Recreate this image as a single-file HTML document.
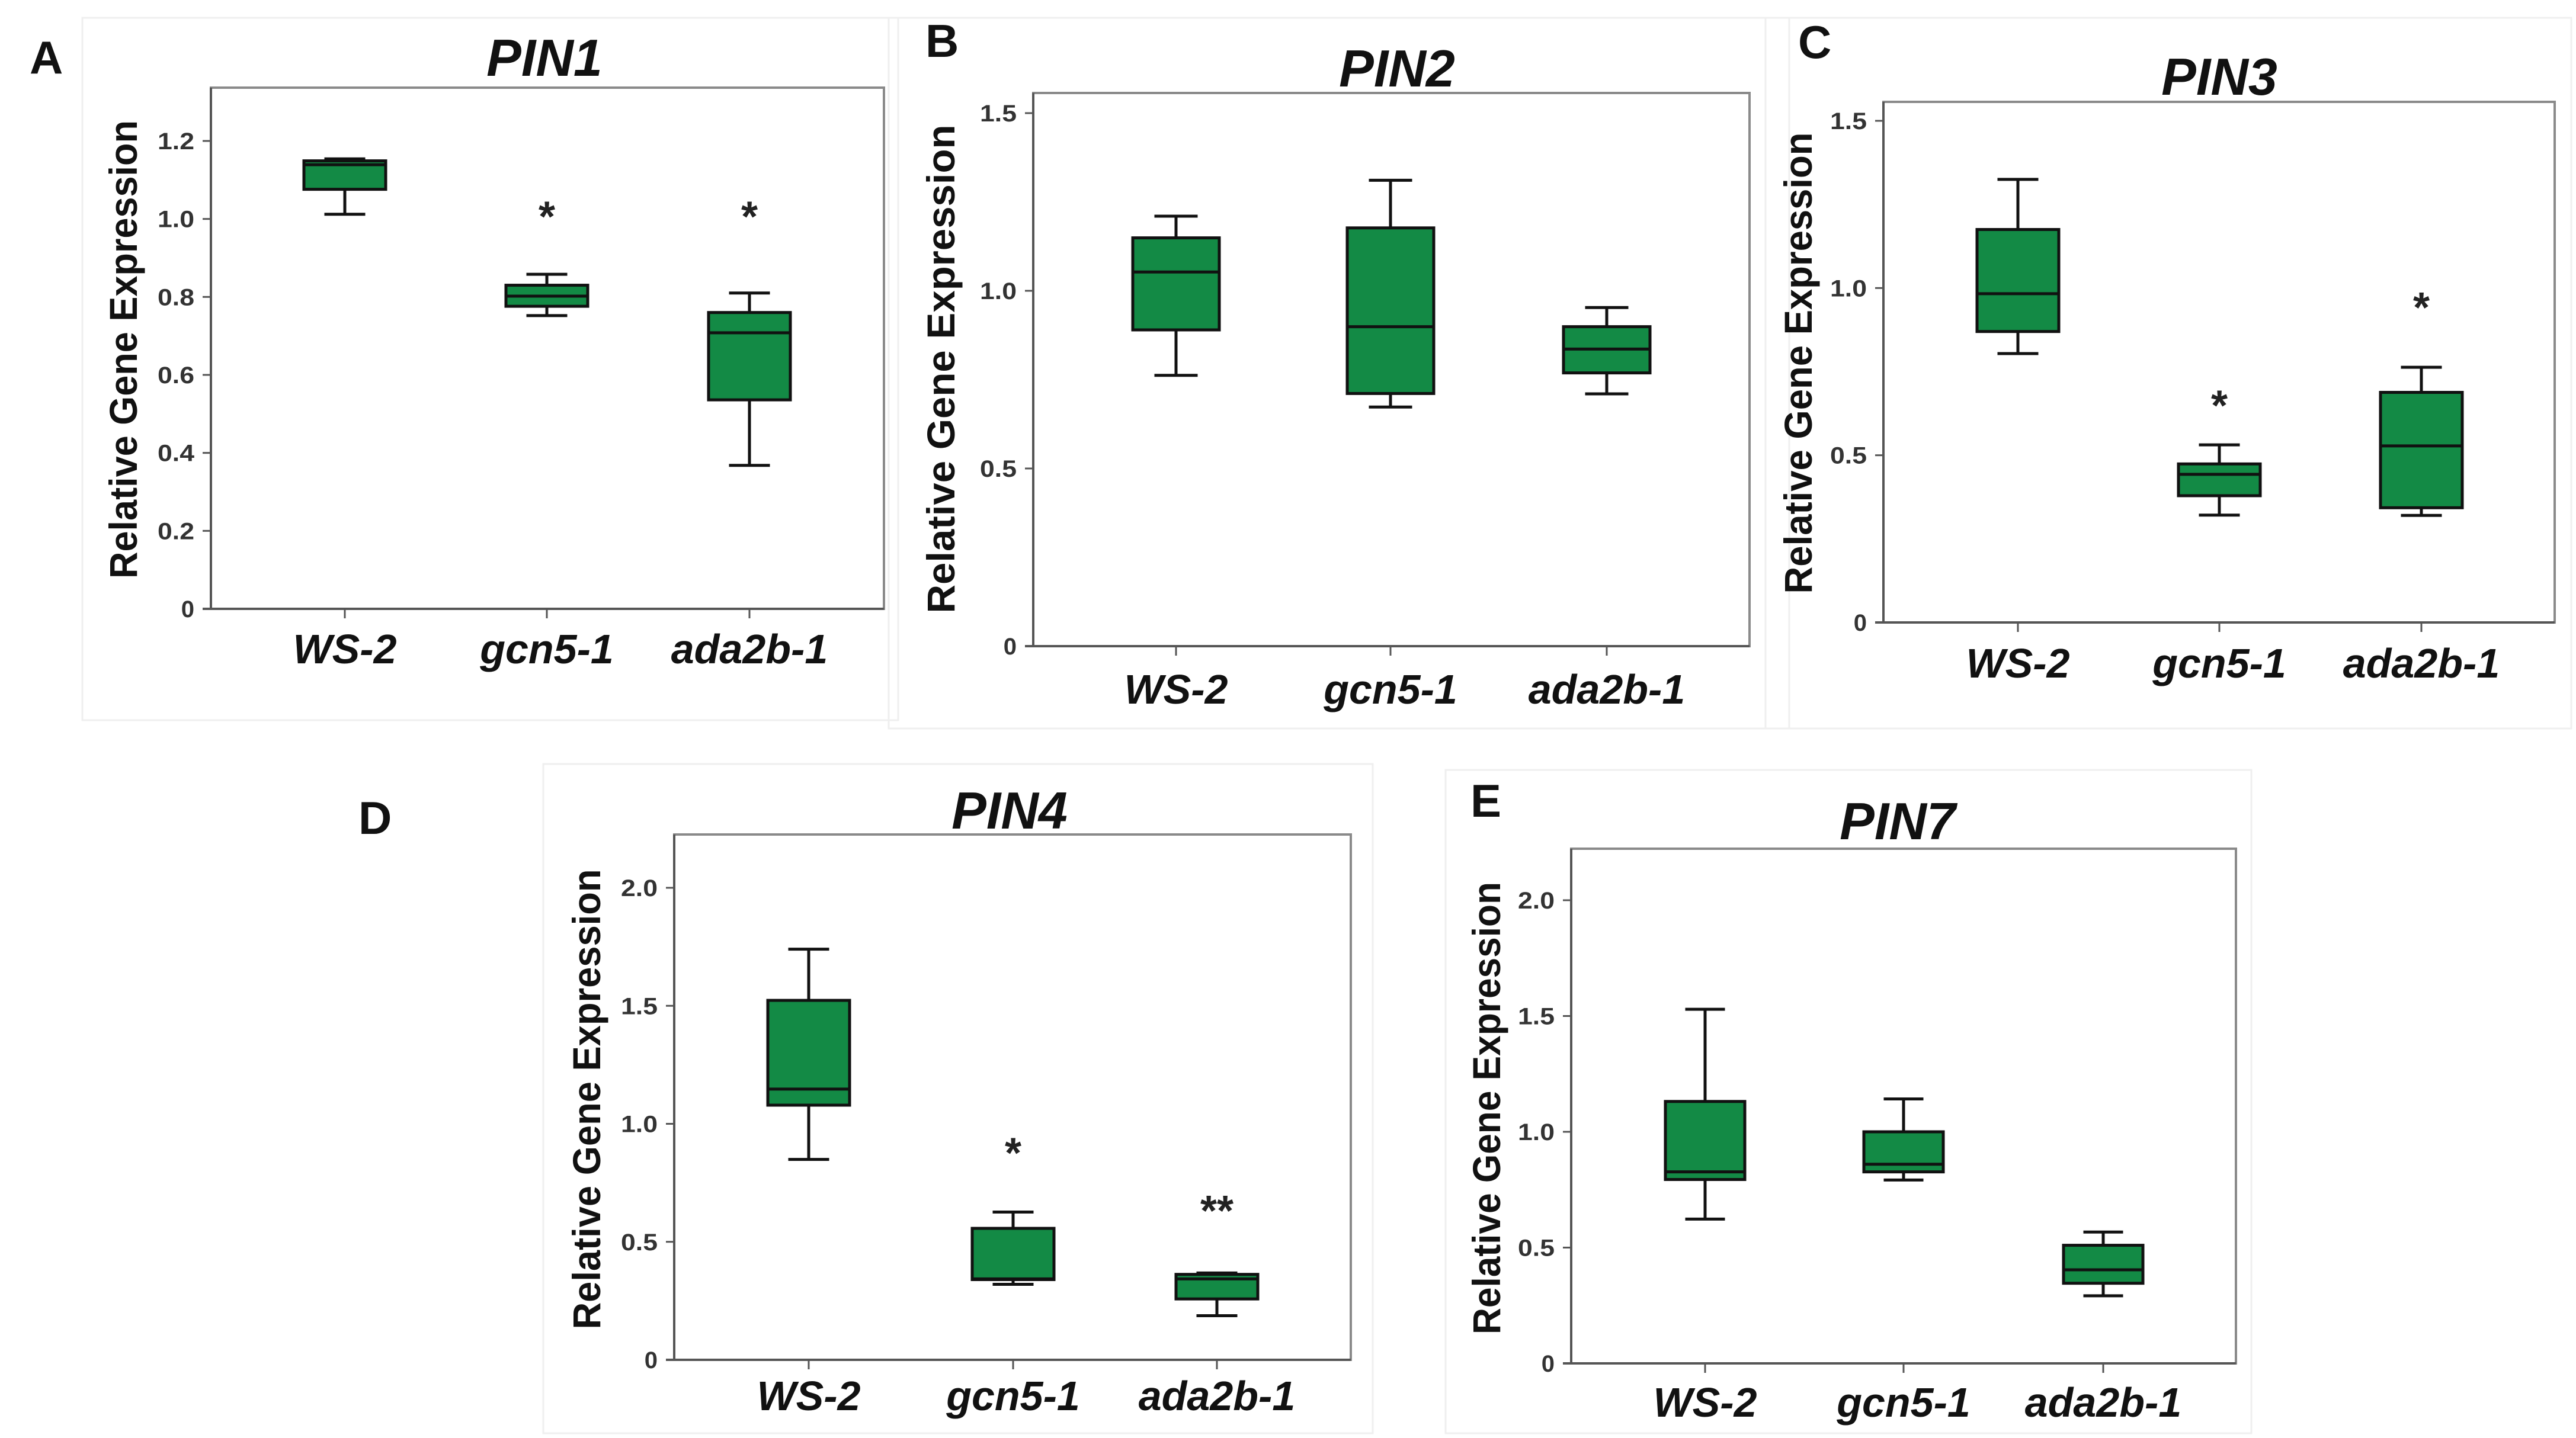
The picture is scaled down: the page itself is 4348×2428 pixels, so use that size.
<!DOCTYPE html>
<html><head><meta charset="utf-8"><style>
html,body{margin:0;padding:0;background:#fff;}
svg{display:block;}
</style></head><body>
<svg id="fig" width="4348" height="2428" viewBox="0 0 4348 2428" xmlns="http://www.w3.org/2000/svg">
<g fill="none" stroke="#efefef" stroke-width="3">
<rect x="139" y="30" width="1377" height="1186"/>
<rect x="1500" y="30" width="1520" height="1200"/>
<rect x="2980" y="30" width="1360" height="1200"/>
<rect x="917" y="1290" width="1400" height="1130"/>
<rect x="2440" y="1300" width="1360" height="1120"/>
</g>
</svg>
<script>
// ---- data ----
const categories = ["WS-2", "gcn5-1", "ada2b-1"];
const geneNames = ["PIN1", "PIN2", "PIN3", "PIN4", "PIN7"];
const panelLetters = ["A", "B", "C", "D", "E"];
// [low whisker, q1, median, q3, high whisker] per genotype
const pin1Stats = [[1.012,1.076,1.139,1.149,1.154],[0.752,0.776,0.802,0.83,0.858],[0.368,0.536,0.708,0.76,0.81]];
const pin2Stats = [[0.762,0.89,1.053,1.149,1.21],[0.673,0.711,0.899,1.177,1.311],[0.71,0.769,0.836,0.899,0.953]];
const pin3Stats = [[0.804,0.87,0.983,1.175,1.325],[0.321,0.379,0.443,0.474,0.531],[0.32,0.343,0.528,0.688,0.763]];
const pin4Stats = [[0.849,1.079,1.147,1.523,1.74],[0.32,0.34,0.343,0.557,0.626],[0.187,0.258,0.343,0.362,0.368]];
const pin7Stats = [[0.623,0.794,0.827,1.131,1.529],[0.792,0.827,0.86,1.0,1.142],[0.292,0.346,0.404,0.51,0.567]];
// significance marks: [label, value]
const pin1Marks = [null, ["*", 1.02], ["*", 1.02]];
const pin2Marks = [null, null, null];
const pin3Marks = [null, ["*", 0.665], ["*", 0.958]];
const pin4Marks = [null, ["*", 0.90], ["**", 0.655]];
const pin7Marks = [null, null, null];
const pin1Ticks = ["0","0.2","0.4","0.6","0.8","1.0","1.2"];
const pin1TickVals = [0,0.2,0.4,0.6,0.8,1.0,1.2];
const halfTicks = ["0","0.5","1.0","1.5"];
const halfTickVals = [0,0.5,1.0,1.5];
const pin47Ticks = ["0","0.5","1.0","1.5","2.0"];
const pin47TickVals = [0,0.5,1.0,1.5,2.0];

// ---- layout (pixels) ----
const layouts = [
 {x0:356,x1:1492,yTop:148,yBot:1028,vTop:1.2,vTopY:238,cx:[582,923,1265],hw:69,title:[919,128],letter:[50,124],yt:[208,590,774],xl:1120},
 {x0:1744,x1:2953,yTop:157,yBot:1091,vTop:1.5,vTopY:191,cx:[1985,2347,2712],hw:73,title:[2358,146],letter:[1562,96],yt:[1588,623,825],xl:1188},
 {x0:3179,x1:4312,yTop:172,yBot:1051,vTop:1.5,vTopY:204,cx:[3406,3746,4087],hw:69,title:[3746,160],letter:[3035,98],yt:[3035,613,779],xl:1144},
 {x0:1138,x1:2280,yTop:1409,yBot:2296,vTop:2.0,vTopY:1499,cx:[1365,1710,2054],hw:69,title:[1704,1399],letter:[605,1408],yt:[990,1856,777],xl:2381},
 {x0:2652,x1:3774,yTop:1433,yBot:2302,vTop:2.0,vTopY:1520,cx:[2878,3213,3550],hw:67,title:[3203,1417],letter:[2482,1379],yt:[2509,1871,764],xl:2392}
];
const statsAll = [pin1Stats,pin2Stats,pin3Stats,pin4Stats,pin7Stats];
const marksAll = [pin1Marks,pin2Marks,pin3Marks,pin4Marks,pin7Marks];
const ticksAll = [pin1Ticks,halfTicks,halfTicks,pin47Ticks,pin47Ticks];
const tickValsAll = [pin1TickVals,halfTickVals,halfTickVals,pin47TickVals,pin47TickVals];

const NS = "http://www.w3.org/2000/svg";
const svg = document.getElementById("fig");
function mk(tag, attrs, parent){
  const e = document.createElementNS(NS, tag);
  for (const k in attrs) e.setAttribute(k, attrs[k]);
  parent.appendChild(e);
  return e;
}
const GREEN = "#138a45";

layouts.forEach((L, p) => {
  const g = mk("g", {}, svg);
  
  
  const yScale = v => L.yBot - (v / L.vTop) * (L.yBot - L.vTopY);

  const frame = mk("rect", {x:L.x0, y:L.yTop, width:L.x1-L.x0, height:L.yBot-L.yTop, fill:"none", stroke:"#8a8a8a", "stroke-width":4}, g);
  
  
  const yAxis = mk("line", {x1:L.x0, y1:L.yTop, x2:L.x0, y2:L.yBot, stroke:"#555", "stroke-width":4}, g);
  
  
  const xAxis = mk("line", {x1:L.x0-14, y1:L.yBot, x2:L.x1, y2:L.yBot, stroke:"#555", "stroke-width":4}, g);
  
  

  ticksAll[p].forEach((lab, i) => {
    const y = yScale(tickValsAll[p][i]);
    const tk = mk("line", {x1:L.x0-14, y1:y, x2:L.x0, y2:y, stroke:"#555", "stroke-width":3}, g);
    
    
    const attrs = {x:L.x0-28, y:y+14, "text-anchor":"end", "font-family":"Liberation Sans, sans-serif", "font-weight":"bold", "font-size":40, fill:"#333"};
    if (lab.length > 1) { attrs.textLength = 62; attrs.lengthAdjust = "spacingAndGlyphs"; }
    const t = mk("text", attrs, g);
    t.textContent = lab;
    
    
  });

  const yt = mk("text", {x:0, y:0, transform:`translate(${L.yt[0]+23},${L.yt[1]}) rotate(-90)`, "text-anchor":"middle", "font-family":"Liberation Sans, sans-serif", "font-weight":"bold", "font-size":66, textLength:L.yt[2], lengthAdjust:"spacingAndGlyphs", fill:"#111"}, g);
  yt.textContent = "Relative Gene Expression";
  
  

  const ti = mk("text", {x:L.title[0], y:L.title[1], "text-anchor":"middle", "font-family":"Liberation Sans, sans-serif", "font-weight":"bold", "font-style":"italic", "font-size":88, fill:"#111"}, g);
  ti.textContent = geneNames[p];
  
  

  const le = mk("text", {x:L.letter[0], y:L.letter[1], "font-family":"Liberation Sans, sans-serif", "font-weight":"bold", "font-size":78, fill:"#111"}, g);
  le.textContent = panelLetters[p];
  
  

  categories.forEach((cat, c) => {
    const cx = L.cx[c];
    const xt = mk("line", {x1:cx, y1:L.yBot, x2:cx, y2:L.yBot+16, stroke:"#555", "stroke-width":3}, g);
    
    
    const xl = mk("text", {x:cx, y:L.xl, "text-anchor":"middle", "font-family":"Liberation Sans, sans-serif", "font-weight":"bold", "font-style":"italic", "font-size":70, fill:"#111"}, g);
    xl.textContent = cat;
    
    

    const s = statsAll[p][c];
    const bg = mk("g", {}, g);
    
    
    const yLo = yScale(s[0]), yQ1 = yScale(s[1]), yMed = yScale(s[2]), yQ3 = yScale(s[3]), yHi = yScale(s[4]);
    const cap = L.hw * 0.5;
    const w1 = mk("line", {x1:cx, y1:yHi, x2:cx, y2:yQ3, stroke:"#111", "stroke-width":5}, bg);
    
    
    const w2 = mk("line", {x1:cx, y1:yQ1, x2:cx, y2:yLo, stroke:"#111", "stroke-width":5}, bg);
    
    
    const c1 = mk("line", {x1:cx-cap, y1:yHi, x2:cx+cap, y2:yHi, stroke:"#111", "stroke-width":5}, bg);
    
    
    const c2 = mk("line", {x1:cx-cap, y1:yLo, x2:cx+cap, y2:yLo, stroke:"#111", "stroke-width":5}, bg);
    
    
    const box = mk("rect", {x:cx-L.hw, y:yQ3, width:2*L.hw, height:Math.max(yQ1-yQ3,1), fill:GREEN, stroke:"#111", "stroke-width":5}, bg);
    
    
    const md = mk("line", {x1:cx-L.hw, y1:yMed, x2:cx+L.hw, y2:yMed, stroke:"#111", "stroke-width":5}, bg);
    
    

    const m = marksAll[p][c];
    if (m) {
      const st = mk("text", {x:cx, y:yScale(m[1])+34, "text-anchor":"middle", "font-family":"Liberation Sans, sans-serif", "font-weight":"bold", "font-size":72, fill:"#222"}, g);
      st.textContent = m[0];
      
      
    }
  });
});
</script>
</body></html>
